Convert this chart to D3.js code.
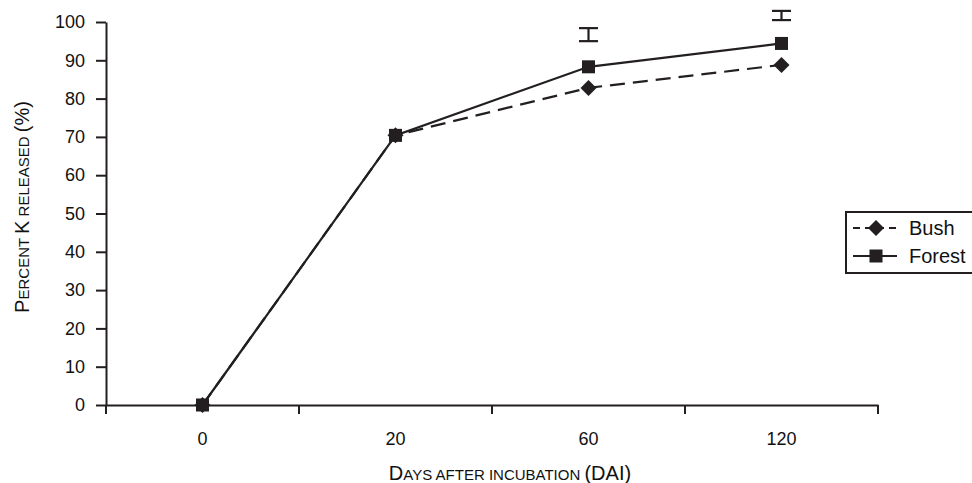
<!DOCTYPE html>
<html>
<head>
<meta charset="utf-8">
<script src="https://cdn.jsdelivr.net/npm/d3@7/dist/d3.min.js"></script>
<style>
  html, body { margin: 0; padding: 0; background: #fff; }
  svg { display: block; font-family: "Liberation Sans", Arial, sans-serif; }
</style>
</head>
<body>
<svg id="chart" width="972" height="483"></svg>
<script>
// Days after incubation (categorical axis)
const days = ["0", "20", "60", "120"];
// Percent K released
const bush = [0, 70.4, 82.8, 88.8];
const forest = [0, 70.4, 88.3, 94.4];
// LSD bars (low, high) shown above the 60 and 120 day points
const lsdDays = ["60", "120"];
const lsdLow = [95.0, 100.5];
const lsdHigh = [98.4, 102.9];
const yTicks = [0, 10, 20, 30, 40, 50, 60, 70, 80, 90, 100];

const ink = "#231f20";
const svg = d3.select("#chart");

const x = d3.scaleBand().domain(days).range([106, 878]).padding(0);
const xEdge = d3.scaleLinear().domain([0, days.length]).range([106, 878]);
const y = d3.scaleLinear().domain([0, 100]).range([405, 22]);

// Y axis
const yAxis = svg.append("g")
  .attr("transform", "translate(106,0)")
  .call(d3.axisLeft(y).tickValues(yTicks).tickSize(10).tickSizeOuter(0).tickPadding(11));
yAxis.select(".domain").attr("stroke", ink).attr("stroke-width", 2);
yAxis.selectAll(".tick line").attr("stroke", ink).attr("stroke-width", 2);
yAxis.selectAll(".tick text").attr("fill", "#111").style("font-size", "18px");

// X axis: labels centred in each band, tick marks at band edges
const xAxis = svg.append("g")
  .attr("transform", "translate(0,405)")
  .call(d3.axisBottom(x).tickSize(0).tickSizeOuter(0).tickPadding(27));
xAxis.select(".domain").attr("stroke", ink).attr("stroke-width", 2);
xAxis.selectAll(".tick text").attr("fill", "#111").style("font-size", "18px");
svg.append("g").selectAll("line")
  .data(d3.range(days.length + 1))
  .join("line")
  .attr("x1", d => xEdge(d)).attr("x2", d => xEdge(d))
  .attr("y1", 405).attr("y2", 414)
  .attr("stroke", ink).attr("stroke-width", 2);

const cx = d => x(d) + x.bandwidth() / 2;

// Lines
const line = d3.line().x(d => cx(d[0])).y(d => y(d[1]));
svg.append("path")
  .datum(days.map((d, i) => [d, bush[i]]))
  .attr("d", line).attr("fill", "none")
  .attr("stroke", ink).attr("stroke-width", 2.2)
  .attr("stroke-dasharray", "15,8");
svg.append("path")
  .datum(days.map((d, i) => [d, forest[i]]))
  .attr("d", line).attr("fill", "none")
  .attr("stroke", ink).attr("stroke-width", 2.2);

// Markers
const diamond = (px, py, r) => `M${px},${py - r}L${px + r},${py}L${px},${py + r}L${px - r},${py}Z`;
svg.append("g").selectAll("path")
  .data(days.map((d, i) => [d, bush[i]]))
  .join("path")
  .attr("d", d => diamond(cx(d[0]), y(d[1]), 8))
  .attr("fill", ink);
svg.append("g").selectAll("rect")
  .data(days.map((d, i) => [d, forest[i]]))
  .join("rect")
  .attr("x", d => cx(d[0]) - 6.5).attr("y", d => y(d[1]) - 6.5)
  .attr("width", 13).attr("height", 13)
  .attr("fill", ink);

// LSD bars
const lsd = svg.append("g").attr("stroke", ink).attr("stroke-width", 2.2);
lsdDays.forEach((d, i) => {
  const c = cx(d);
  lsd.append("line").attr("x1", c).attr("x2", c).attr("y1", y(lsdLow[i])).attr("y2", y(lsdHigh[i]));
  lsd.append("line").attr("x1", c - 9.5).attr("x2", c + 9.5).attr("y1", y(lsdLow[i])).attr("y2", y(lsdLow[i]));
  lsd.append("line").attr("x1", c - 9.5).attr("x2", c + 9.5).attr("y1", y(lsdHigh[i])).attr("y2", y(lsdHigh[i]));
});

// Axis titles in small caps: capitals at full size, the rest smaller
function smallCaps(sel, parts, big, small) {
  parts.forEach(p => {
    sel.append("tspan")
      .style("font-size", (p.big ? big : small) + "px")
      .text(p.big ? p.t : p.t.toUpperCase());
  });
}
const yTitle = svg.append("text")
  .attr("transform", "translate(29,207) rotate(-90)")
  .attr("text-anchor", "middle")
  .attr("fill", "#111");
smallCaps(yTitle, [
  {t: "P", big: true}, {t: "ercent ", big: false}, {t: "K", big: true},
  {t: " released ", big: false}, {t: "(%)", big: true}
], 20, 15);

const xTitle = svg.append("text")
  .attr("x", 510).attr("y", 480)
  .attr("text-anchor", "middle")
  .attr("fill", "#111");
smallCaps(xTitle, [
  {t: "D", big: true}, {t: "ays after incubation ", big: false}, {t: "(DAI)", big: true}
], 20, 15);

// Legend
const lg = svg.append("g");
lg.append("rect").attr("x", 846).attr("y", 212).attr("width", 140).attr("height", 61)
  .attr("fill", "#fff").attr("stroke", ink).attr("stroke-width", 2);
const items = [{name: "Bush", dash: "7,5", shape: "diamond"}, {name: "Forest", dash: null, shape: "square"}];
items.forEach((it, i) => {
  const ly = 228 + i * 28;
  lg.append("line").attr("x1", 853).attr("x2", 897).attr("y1", ly).attr("y2", ly)
    .attr("stroke", ink).attr("stroke-width", 2.2)
    .attr("stroke-dasharray", it.dash);
  if (it.shape === "diamond") {
    lg.append("path").attr("d", diamond(876, ly, 8)).attr("fill", ink);
  } else {
    lg.append("rect").attr("x", 869.5).attr("y", ly - 6.5).attr("width", 13).attr("height", 13).attr("fill", ink);
  }
  lg.append("text").attr("x", 909).attr("y", ly + 7).attr("fill", "#111")
    .style("font-size", "20px").text(it.name);
});
</script>
</body>
</html>
